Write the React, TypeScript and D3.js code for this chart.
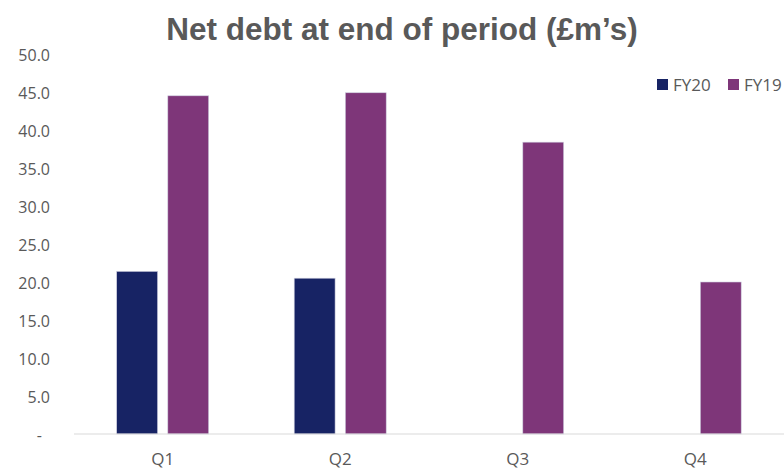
import React from "react";
import * as d3 from "d3";

const categories = ["Q1", "Q2", "Q3", "Q4"];
const seriesNames = ["FY20", "FY19"];
const fy20 = [21.4, 20.5, null, null];
const fy19 = [44.5, 44.9, 38.4, 20.0];
const yTicks = [0, 5, 10, 15, 20, 25, 30, 35, 40, 45, 50];
const colors = ["#172364", "#7E3679"];

export default function App() {
  const W = 784, H = 469;
  const left = 74, right = 784, base = 434, top = 54;
  const x = d3.scaleBand<string>().domain(categories).range([left, right]).paddingInner(0).paddingOuter(0);
  const inner = d3.scaleBand<string>().domain(seriesNames).range([42.7, 42.7 + 92]).paddingInner(0.2);
  const y = d3.scaleLinear().domain([0, 50]).range([base, top]);
  const series = [fy20, fy19];
  const textColor = "#595959";
  const font = "'Open Sans', 'Noto Sans', sans-serif";
  const legendX = [657, 728];
  return (
    <svg width={W} height={H} style={{ position: "absolute", left: 0, top: 0, background: "#fff" }}>
      <text x={402} y={40} textAnchor="middle" fontFamily="'Liberation Sans', Arial, sans-serif" fontWeight="bold" fontSize={31.5} fill={textColor}>
        Net debt at end of period (£m’s)
      </text>
      {yTicks.map((t) => (
        <text key={t} x={t === 0 ? 42 : 50} y={y(t) + 1} dy="0.35em" textAnchor="end" fontFamily={font} fontSize={16} fill={textColor}>
          {t === 0 ? "-" : d3.format(".1f")(t)}
        </text>
      ))}
      {series.map((vals, si) =>
        vals.map((v, ci) =>
          v == null ? null : (
            <rect
              key={`${si}-${ci}`}
              x={(x(categories[ci]) as number) + (inner(seriesNames[si]) as number)}
              y={y(v)}
              width={inner.bandwidth()}
              height={base - y(v)}
              fill={colors[si]}
              stroke="#d0d0e0"
              strokeWidth={0.6}
            />
          )
        )
      )}
      <line x1={left} x2={right} y1={base} y2={base} stroke="#d9d9d9" strokeWidth={1.2} />
      {categories.map((c) => (
        <text key={c} x={(x(c) as number) + x.bandwidth() / 2} y={465} textAnchor="middle" fontFamily={font} fontSize={17} fill={textColor}>
          {c}
        </text>
      ))}
      {seriesNames.map((s, i) => {
        const lx = legendX[i];
        return (
          <g key={s}>
            <rect x={lx} y={79} width={11} height={11} fill={colors[i]} />
            <text x={lx + 16} y={91} fontFamily={font} fontSize={17} fill={textColor}>
              {s}
            </text>
          </g>
        );
      })}
    </svg>
  );
}
